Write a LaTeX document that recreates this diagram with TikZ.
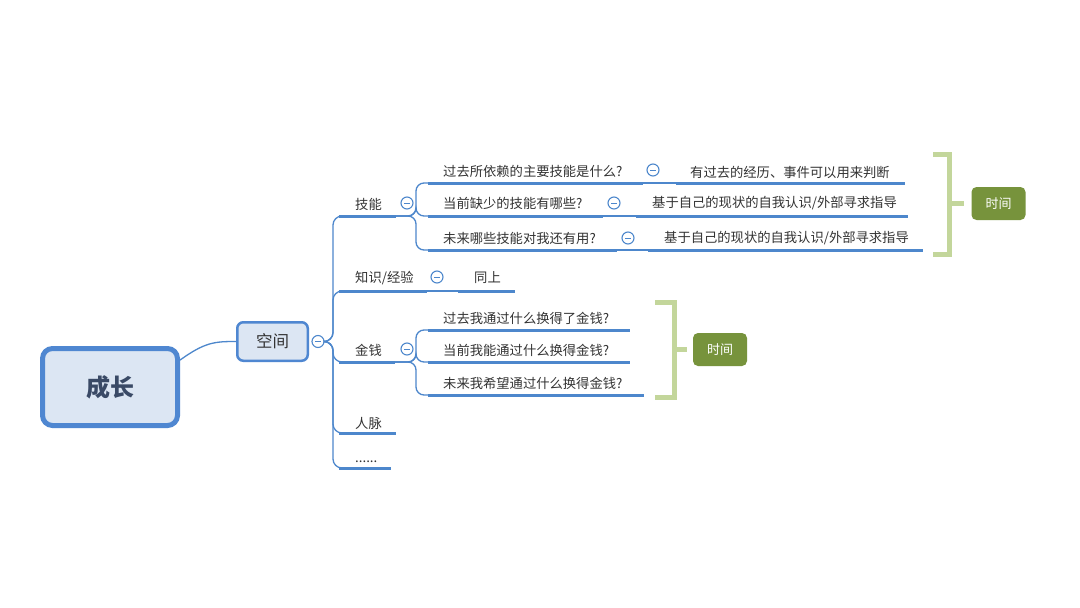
\documentclass[tikz,border=0pt]{standalone}
\usepackage{fontspec}
\setmainfont{Noto Sans CJK SC}
\definecolor{lblue}{HTML}{4D87CC}
\definecolor{rootb}{HTML}{4F87D1}
\definecolor{rootf}{HTML}{DCE6F3}
\definecolor{roottxt}{HTML}{3A4A66}
\definecolor{lgreen}{HTML}{C3D69B}
\definecolor{dgreen}{HTML}{77933C}
\definecolor{txt}{HTML}{333333}
\begin{document}
\begin{tikzpicture}[x=1pt,y=-1pt,
  conn/.style={draw=lblue, line width=1.3pt},
  ul/.style={draw=lblue, line width=3pt},
  lbl/.style={anchor=west, inner sep=0pt, font=\fontsize{13.3}{14}\selectfont, text=txt},
  tog/.style={circle, draw=lblue, line width=1.1pt, fill=white, minimum size=12pt, inner sep=0pt,
    path picture={\draw[lblue, line width=1pt] ([xshift=-3pt]path picture bounding box.center) -- ([xshift=3pt]path picture bounding box.center);}},
  brk/.style={draw=lgreen, line width=5pt},
  timebox/.style={rounded corners=5pt, fill=dgreen, text=white, minimum width=54pt, minimum height=33pt, inner sep=0pt, font=\fontsize{13}{14}\selectfont}
]
\useasboundingbox[fill=white] (0,0) rectangle (1080,608);

% root and first level
\node[draw=rootb, line width=5pt, fill=rootf, rounded corners=10pt, minimum width=135pt, minimum height=77pt,
  font=\fontsize{24}{26}\selectfont\bfseries, text=roottxt] (root) at (110,387) {成长};
\node[draw=rootb, line width=2.5pt, fill=rootf, rounded corners=6pt, minimum width=70.5pt, minimum height=38.5pt,
  font=\fontsize{16.5}{18}\selectfont, text=txt] (kj) at (272.5,341.5) {空间};
\draw[conn] (root.21) .. controls (205,342) and (215,341.5) .. (kj.west);
\node[tog] (c0) at (318,341.5) {};

% level 2 underline endpoints
\coordinate (jn-s) at (339,216); \coordinate (jn-e) at (396,216);
\coordinate (zs-s) at (339,291); \coordinate (zs-e) at (427,291);
\coordinate (jq-s) at (339,362); \coordinate (jq-e) at (395,362);
\coordinate (rm-s) at (339,433); \coordinate (rm-e) at (396,433);
\coordinate (dd-s) at (339,468); \coordinate (dd-e) at (391,468);

\foreach \n in {jn,zs,jq,rm,dd}{
  \draw[conn, rounded corners=9pt] (c0.east) -| ([xshift=-6pt]\n-s) -- (\n-s);
  \draw[ul] (\n-s) -- (\n-e);
}
\node[lbl] (jn) at (355,204) {技能};
\node[lbl] (zs) at (355,278) {知识/经验};
\node[lbl] (jq) at (355,350) {金钱};
\node[lbl] (rm) at (355,423) {人脉};
\node[lbl, anchor=base west] (dd) at (355,462) {......};

\node[tog] (tjn) at (407,203) {};
\node[tog] (tzs) at (437,277) {};
\node[tog] (tjq) at (407,349) {};

% 知识/经验 -> 同上
\coordinate (ts-s) at (458,291); \coordinate (ts-e) at (515,291);
\draw[conn] (zs-e) -- (ts-s);
\draw[ul] (ts-s) -- (ts-e);
\node[lbl] (ts) at (474,278) {同上};

% 技能 children
\coordinate (q1-s) at (428,183); \coordinate (q1-e) at (643,183);
\coordinate (q2-s) at (428,216); \coordinate (q2-e) at (603,216);
\coordinate (q3-s) at (428,250); \coordinate (q3-e) at (617,250);
\foreach \n in {q1,q2,q3}{
  \draw[conn, rounded corners=8pt] (jn-e) -| ([xshift=-12pt]\n-s) -- (\n-s);
  \draw[ul] (\n-s) -- (\n-e);
}
\node[lbl] (q1) at (443,171) {过去所依赖的主要技能是什么?};
\node[lbl] (q2) at (443,203) {当前缺少的技能有哪些?};
\node[lbl] (q3) at (443,238) {未来哪些技能对我还有用?};
\node[tog] (t1) at (653,170) {};
\node[tog] (t2) at (614,203) {};
\node[tog] (t3) at (628,238) {};

% right answers
\coordinate (r1-s) at (676,183); \coordinate (r1-e) at (905,183);
\coordinate (r2-s) at (636,216); \coordinate (r2-e) at (908,216);
\coordinate (r3-s) at (648,250); \coordinate (r3-e) at (923,250);
\draw[conn] (q1-e) -- (r1-s); \draw[ul] (r1-s) -- (r1-e);
\draw[conn] (q2-e) -- (r2-s); \draw[ul] (r2-s) -- (r2-e);
\draw[conn] (q3-e) -- (r3-s); \draw[ul] (r3-s) -- (r3-e);
\node[lbl] (r1) at (690,172) {有过去的经历、事件可以用来判断};
\node[lbl] (r2) at (652,203) {基于自己的现状的自我认识/外部寻求指导};
\node[lbl] (r3) at (664,238) {基于自己的现状的自我认识/外部寻求指导};

% 金钱 children
\coordinate (m1-s) at (428,330); \coordinate (m1-e) at (630,330);
\coordinate (m2-s) at (428,362); \coordinate (m2-e) at (630,362);
\coordinate (m3-s) at (428,395); \coordinate (m3-e) at (644,395);
\foreach \n in {m1,m2,m3}{
  \draw[conn, rounded corners=8pt] (jq-e) -| ([xshift=-12pt]\n-s) -- (\n-s);
  \draw[ul] (\n-s) -- (\n-e);
}
\node[lbl] (m1) at (443,318) {过去我通过什么换得了金钱?};
\node[lbl] (m2) at (443,350) {当前我能通过什么换得金钱?};
\node[lbl] (m3) at (443,383) {未来我希望通过什么换得金钱?};

% brackets and time boxes
\node[timebox] (time1) at (998.5,203.5) {时间};
\draw[brk] (933,154.5) -- (949.5,154.5) -- (949.5,254.5) -- (933,254.5);
\coordinate (b1) at (949.5,203.5);
\draw[brk] (b1) -- ([xshift=-7pt]time1.west);

\node[timebox] (time2) at (720,349.5) {时间};
\draw[brk] (655,302.5) -- (674.5,302.5) -- (674.5,397.5) -- (655,397.5);
\coordinate (b2) at (674.5,349.5);
\draw[brk] (b2) -- ([xshift=-6pt]time2.west);
\end{tikzpicture}
\end{document}
